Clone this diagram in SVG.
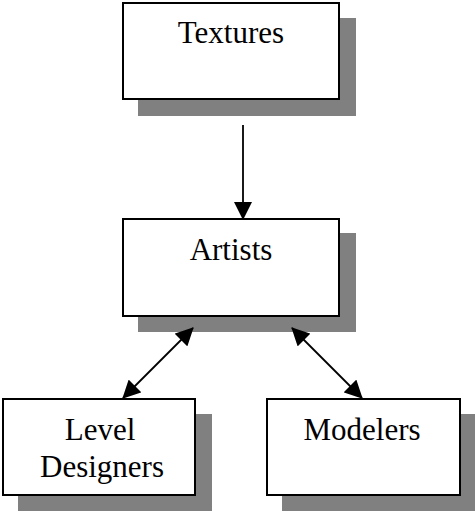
<svg xmlns="http://www.w3.org/2000/svg" width="475" height="513" viewBox="0 0 475 513">
<style>
.shadow{fill:#808080;stroke:none}
.box{fill:#fff;stroke:#000;stroke-width:2}
.lbl{font-family:"Liberation Serif","Times New Roman",serif;font-size:31px;fill:#000;text-anchor:middle}
.conn{stroke:#000;stroke-width:1.8;fill:none}
</style>
<defs>
<marker id="ah" viewBox="0 0 18 18" refX="17" refY="9" markerWidth="18" markerHeight="18" markerUnits="userSpaceOnUse" orient="auto-start-reverse">
<path d="M0,0 L18,9 L0,18 z" fill="#000"/>
</marker>
</defs>
<rect width="475" height="513" fill="#fff"/>
<g id="textures">
<rect class="shadow" x="138" y="18" width="218" height="98"/>
<rect class="box" x="123" y="3" width="216" height="96"/>
<text class="lbl" x="231" y="43">Textures</text>
</g>
<g id="artists">
<rect class="shadow" x="138" y="233" width="218" height="99"/>
<rect class="box" x="123" y="219" width="216" height="97"/>
<text class="lbl" x="231" y="260">Artists</text>
</g>
<g id="level-designers">
<rect class="shadow" x="18" y="414" width="194" height="97"/>
<rect class="box" x="3" y="399" width="192" height="96"/>
<text class="lbl" x="100" y="440">Level</text>
<text class="lbl" x="102" y="477">Designers</text>
</g>
<g id="modelers">
<rect class="shadow" x="282" y="414" width="193" height="97"/>
<rect class="box" x="267" y="399" width="193" height="96"/>
<text class="lbl" x="362" y="440">Modelers</text>
</g>
<g id="connectors">
<line class="conn" x1="243" y1="125" x2="243" y2="219" marker-end="url(#ah)"/>
<line class="conn" x1="193" y1="328" x2="123" y2="398" marker-start="url(#ah)" marker-end="url(#ah)"/>
<line class="conn" x1="292" y1="328" x2="362" y2="398" marker-start="url(#ah)" marker-end="url(#ah)"/>
</g>
</svg>
